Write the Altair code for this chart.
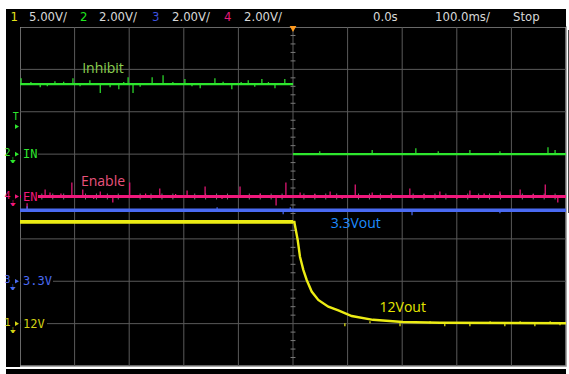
import altair as alt
import pandas as pd

# ---------------- data ----------------
ch_names = ["1", "2", "3", "4"]
ch_scale = [5.0, 2.0, 2.0, 2.0]
ch_offset = [-3.0, 1.0, -2.0, 0.0]
ch_color = ["#ecec14", "#2ee62e", "#4a6af2", "#f0187c"]
ch_label = ["12V", "IN", "3.3V", "EN"]

# Ch1 (yellow) 12Vout: segment 0 before trigger, segment 1 decay
y_t = [-500, 0, 0, 2.4, 8.6, 12.8, 18.9, 25.1, 34.2, 46.3, 64.7, 83, 107.5, 146.5, 201, 269, 500]
y_v = [12.0, 12.0, 12.0, 12.0, 9.87, 7.9, 6.35, 5.15, 3.78, 2.8, 2.0, 1.55, 0.9, 0.45, 0.2, 0.1, 0.05]
y_seg = [0, 0, 1, 1, 1, 1, 1, 1, 1, 1, 1, 1, 1, 1, 1, 1, 1]
g_t = [-500, 0, 0, 500]
g_v = [3.3, 3.3, 0.0, 0.0]
g_seg = [0, 0, 1, 1]
b_t = [-500, 500]
b_v = [3.35, 3.35]
m_t = [-500, 500]
m_v = [0.0, 0.0]

gs_t = [-498, -463, -436, -403, -372, -353, -335, -319, -302, -293, -258, -238, -198, -170, -143, -112, -82, -57, -33, -15,
        -480, -450, -420, -390, -310, -280, -220, -185, -128, -95, -70, -45,
        49, 145, 225, 266, 324, 379, 467, 480]
gs_v = [0.28, -0.14, 0.14, 0.28, 0.19, -0.42, -0.14, -0.24, 0.33, -0.42, 0.33, 0.42, 0.24, -0.19, 0.28, -0.24, 0.19, 0.24, -0.19, 0.24,
        0.1, -0.1, 0.12, -0.1, 0.1, -0.12, 0.1, -0.1, 0.12, 0.1, -0.12, 0.1,
        0.14, 0.19, 0.28, 0.14, 0.19, 0.14, 0.33, 0.19]
ms_t = [-487, -454, -445, -405, -385, -353, -330, -299, -244, -194, -161, -97, -31, -13, 13, 68, 114, 145, 214, 269, 324, 379, 416, 462, 485,
        -470, -425, -365, -270, -215, -130, -60, 40, 90, 180, 240, 300, 350, 440]
ms_v = [-0.61, 0.33, 0.19, 0.66, 0.33, 0.24, -0.28, 0.66, 0.38, 0.28, 0.47, 0.47, -0.42, 0.66, 0.19, 0.24, 0.57, 0.19, 0.38, 0.24, 0.28, 0.24, 0.33, 0.57, -0.28,
        0.12, 0.14, -0.12, 0.14, 0.12, -0.12, 0.14, 0.12, -0.12, 0.14, 0.12, -0.12, 0.14, 0.12]
bs_t = [-487, -139, -18, -5, 218, 379]
bs_v = [0.19, 0.14, -0.19, 0.14, -0.24, -0.14]
ys_t = [95, 141, 196, 251, 278, 324, 361, 388, 416, 443, 471, 489]
ys_v = [-0.35, 0.24, -0.35, 0.24, -0.35, -0.35, 0.24, -0.35, 0.24, -0.35, 0.24, -0.24]

trig_level_div = 1.65

notes = ["Inhibit", "Enable", "3.3Vout", "12Vout"]
notes_t = [-348, -348, 115, 201]
notes_div = [3.01, 0.34, -0.65, -2.62]
notes_color = ["#8ccf50", "#e8527c", "#1e8cff", "#e6e600"]

header_text = ["1", "5.00V/", "2", "2.00V/", "3", "2.00V/", "4", "2.00V/", "0.0s", "100.0ms/", "Stop"]
header_color = ["#e6e61a", "#d8d8d8", "#1ee61e", "#d8d8d8", "#3c50dc", "#d8d8d8", "#e6197a", "#d8d8d8",
                "#d8d8d8", "#d8d8d8", "#d8d8d8"]
header_x = [-9.5, 9, 60, 79, 132, 152, 204, 224, 353, 415, 493]


def to_div(ch, v):
    i = ch_names.index(ch)
    return ch_offset[i] + v / ch_scale[i]


seg_width = {"10": 3.8, "11": 2.4, "20": 2.2, "21": 2.2, "30": 3.6, "40": 3.0}
rows = []
for ch, ts, vs, segs in [("1", y_t, y_v, y_seg), ("2", g_t, g_v, g_seg),
                         ("3", b_t, b_v, [0, 0]), ("4", m_t, m_v, [0, 0])]:
    for k, (t, v, s) in enumerate(zip(ts, vs, segs)):
        sg = ch + str(s)
        rows.append({"t": t, "div": to_div(ch, v), "ch": ch, "seg": sg, "sw": seg_width[sg], "o": k})
lines = pd.DataFrame(rows)

srows = []
for ch, ts, vs, base in [("2", gs_t, gs_v, None), ("4", ms_t, ms_v, 0.0), ("3", bs_t, bs_v, 3.35), ("1", ys_t, ys_v, 0.05)]:
    for t, dv in zip(ts, vs):
        b = (3.3 if t < 0 else 0.0) if ch == "2" else base
        srows.append({"t": t, "d0": to_div(ch, b), "d1": to_div(ch, b + dv), "ch": ch})
spikes = pd.DataFrame(srows)

xs = alt.Scale(domain=[-500, 500], nice=False, zero=False)
ys = alt.Scale(domain=[-4, 4], nice=False, zero=False)
cs = alt.Scale(domain=ch_names, range=ch_color)
one = pd.DataFrame({"a": [1]})

GRID = "#5a5a5a"
layers = []

for x0, x1, y0, y1 in [(-14, 546, -18, 0), (-14, 0, 0, 340), (-14, 546, 342, 347)]:
    layers.append(alt.Chart(one).mark_rect(color="black").encode(
        x=alt.value(x0), x2=alt.value(x1), y=alt.value(y0), y2=alt.value(y1)))
layers.append(alt.Chart(one).mark_rule(color="#4a4a4a", strokeWidth=1).encode(
    x=alt.value(548.5), y=alt.value(3), y2=alt.value(186)))

gx = pd.DataFrame({"t": [-400, -300, -200, -100, 0, 100, 200, 300, 400]})
gy = pd.DataFrame({"div": [-3, -2, -1, 0, 1, 2, 3]})
layers.append(alt.Chart(gx).mark_rule(color=GRID, strokeWidth=1).encode(
    x=alt.X("t:Q", scale=xs, axis=None)))
layers.append(alt.Chart(gy).mark_rule(color=GRID, strokeWidth=1).encode(
    y=alt.Y("div:Q", scale=ys, axis=None)))
vt = pd.DataFrame({"div": [k / 5 for k in range(-20, 21) if k % 5 != 0], "a": -4.5, "b": 4.5})
ht = pd.DataFrame({"t": [k * 20 for k in range(-25, 26) if k % 5 != 0], "a": -0.07, "b": 0.07})
layers.append(alt.Chart(vt).mark_rule(color="#7a7a7a", strokeWidth=1).encode(
    y=alt.Y("div:Q", scale=ys, axis=None), x=alt.X("a:Q", scale=xs, axis=None), x2="b:Q"))
layers.append(alt.Chart(ht).mark_rule(color="#7a7a7a", strokeWidth=1).encode(
    x=alt.X("t:Q", scale=xs, axis=None), y=alt.Y("a:Q", scale=ys, axis=None), y2="b:Q"))

# traces
layers.append(alt.Chart(spikes).mark_rule(strokeWidth=1.2).encode(
    x=alt.X("t:Q", scale=xs, axis=None), y=alt.Y("d0:Q", scale=ys, axis=None), y2="d1:Q",
    color=alt.Color("ch:N", scale=cs, legend=None)))
layers.append(alt.Chart(lines).mark_line(strokeCap="butt").encode(
    x=alt.X("t:Q", scale=xs, axis=None), y=alt.Y("div:Q", scale=ys, axis=None),
    color=alt.Color("ch:N", scale=cs, legend=None), detail="seg:N", order="o:Q",
    strokeWidth=alt.StrokeWidth("sw:Q", scale=None)))

# left channel markers
label_w = {"12V": 27, "IN": 18, "3.3V": 33, "EN": 18}
for i, ch in enumerate(ch_names):
    lvl = ch_offset[i]
    d = pd.DataFrame({"lvl": [lvl], "lo": [lvl - 0.16], "hi": [lvl + 0.16]})
    col = ch_color[i] if ch != "1" else "#d2d214"
    layers.append(alt.Chart(d).mark_rect(color="black").encode(
        x=alt.value(1), x2=alt.value(label_w[ch_label[i]]),
        y=alt.Y("lo:Q", scale=ys, axis=None), y2="hi:Q"))
    layers.append(alt.Chart(d).mark_text(text=ch_label[i], align="left", baseline="middle",
                                         font="DejaVu Sans Mono", fontSize=12, color=col).encode(
        x=alt.value(3), y=alt.Y("lvl:Q", scale=ys, axis=None)))
    layers.append(alt.Chart(d).mark_text(text=ch, align="center", baseline="middle",
                                         font="DejaVu Sans Mono", fontSize=10, color=col, dy=-1).encode(
        x=alt.value(-12.5), y=alt.Y("lvl:Q", scale=ys, axis=None)))
    layers.append(alt.Chart(d).mark_text(text="⏚", align="center", baseline="middle",
                                         font="DejaVu Sans", fontSize=8, color=col, dy=7).encode(
        x=alt.value(-7.5), y=alt.Y("lvl:Q", scale=ys, axis=None)))
    layers.append(alt.Chart(d).mark_point(shape="triangle-right", filled=True, size=22, color=col, opacity=1).encode(
        x=alt.value(-3), y=alt.Y("lvl:Q", scale=ys, axis=None)))

td = pd.DataFrame({"lvl": [trig_level_div]})
layers.append(alt.Chart(td).mark_text(text="T", align="center", baseline="middle", font="DejaVu Sans Mono",
                                      fontSize=10, color="#2ee62e", dy=-10).encode(
    x=alt.value(-4.3), y=alt.Y("lvl:Q", scale=ys, axis=None)))
layers.append(alt.Chart(td).mark_point(shape="triangle-right", filled=True, size=22, color="#2ee62e", opacity=1).encode(
    x=alt.value(-3), y=alt.Y("lvl:Q", scale=ys, axis=None)))

nd = pd.DataFrame({"txt": notes, "t": notes_t, "div": notes_div, "col": notes_color})
layers.append(alt.Chart(nd).mark_text(font="Open Sans", fontSize=14, baseline="middle", align="center").encode(
    x=alt.X("t:Q", scale=xs, axis=None), y=alt.Y("div:Q", scale=ys, axis=None), text="txt:N",
    color=alt.Color("col:N", scale=None)))

layers.append(alt.Chart(pd.DataFrame({"t": [0]})).mark_point(shape="triangle-down", filled=True, size=45,
                                                            color="#ff9a1e", opacity=1).encode(
    x=alt.X("t:Q", scale=xs, axis=None), y=alt.value(2)))

for txt, col, hx in zip(header_text, header_color, header_x):
    layers.append(alt.Chart(one).mark_text(text=txt, align="left", baseline="middle", color=col,
                                           font="Liberation Sans Narrow, DejaVu Sans Condensed, DejaVu Sans",
                                           fontSize=13).encode(x=alt.value(hx), y=alt.value(-10.5)))

chart = alt.layer(*layers).properties(
    width=546, height=339, background="white",
    padding={"left": 20, "top": 27, "right": 3, "bottom": 8},
    autosize=alt.AutoSizeParams(type="none"),
).configure_view(fill="black", stroke="#8c8c8c", strokeWidth=1.5)

chart.save("out.html", embed_options={"renderer": "svg", "actions": False})
